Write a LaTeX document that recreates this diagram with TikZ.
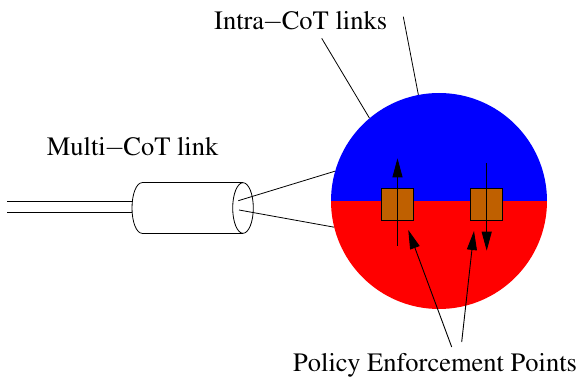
\documentclass[tikz,border=0pt]{standalone}
\usepackage[T1]{fontenc}
\usepackage{mathptmx}
\usetikzlibrary{arrows.meta,calc}
\definecolor{pepbrown}{RGB}{191,96,0}
\newcommand{\tminus}{\kern-1.5pt$-$\kern-1.5pt}
\begin{document}
\begin{tikzpicture}[x=1pt,y=-1pt,
  lbl/.style={anchor=base west,inner sep=0pt,font=\fontsize{26.5}{30}\selectfont},
  wire/.style={line width=0.8pt},
  pepbox/.style={draw=black,line width=0.9pt,fill=pepbrown,minimum width=31.6pt,minimum height=32.4pt,inner sep=0pt},
  arr/.style={line width=0.9pt,-{Triangle[length=19pt,width=10pt]}},
]
\useasboundingbox (0,0) rectangle (582,377);

% trust circle
\node[circle,minimum size=216pt,inner sep=0pt] (cot) at (439,201) {};
\begin{scope}
  \clip (cot.center) circle[radius=108pt];
  \fill[blue] (330,92) rectangle (548,201);
  \fill[red] (330,201) rectangle (548,310);
\end{scope}

% policy enforcement points
\node[pepbox] (pep1) at (397.5,204.5) {};
\node[pepbox] (pep2) at (486.7,204.5) {};
\draw[arr] ($(pep1.center)+(0,41.5)$) -- ($(pep1.center)+(0,-46.2)$);
\draw[arr] ($(pep2.center)+(0,-41.2)$) -- ($(pep2.center)+(0,46.2)$);

% labels
\node[lbl] (intra) at (214,29.3) {Intra\tminus CoT links};
\node[lbl] (multi) at (46.7,156) {Multi\tminus CoT link};
\node[lbl] (pept) at (293,371.7) {Policy Enforcement Points};

% intra links
\coordinate (i1) at (321.7,38.3);
\coordinate (i2) at (403.3,16.7);
\draw[wire] (i1) -- (cot.130.5);
\draw[wire] (i2) -- (cot.101);

% cylinder
\draw[wire] (7.3,201.7) -- (132.5,201.7);
\draw[wire] (7.3,212.3) -- (132.3,212.3);
\draw[wire] (142,182.7) -- (243,182.7);
\draw[wire] (142,233.3) -- (243,233.3);
\draw[wire] (142,182.7) arc[start angle=90,end angle=270,x radius=10pt,y radius=25.3pt];
\draw[wire] (243,208) ellipse[x radius=10.3pt,y radius=25.3pt];

% multi-CoT link rays
\coordinate (c1) at (238.3,200.7);
\coordinate (c2) at (239,210);
\draw[wire] (c1) -- (cot.164.3);
\draw[wire] (c2) -- (cot.194.6);

% pointers to PEPs
\coordinate (p1) at (451.7,347);
\coordinate (p2) at (461.7,342);
\coordinate (t1) at (408.3,230);
\coordinate (t2) at (474,231);
\draw[arr] (p1) -- (t1);
\draw[arr] (p2) -- (t2);
\end{tikzpicture}
\end{document}
